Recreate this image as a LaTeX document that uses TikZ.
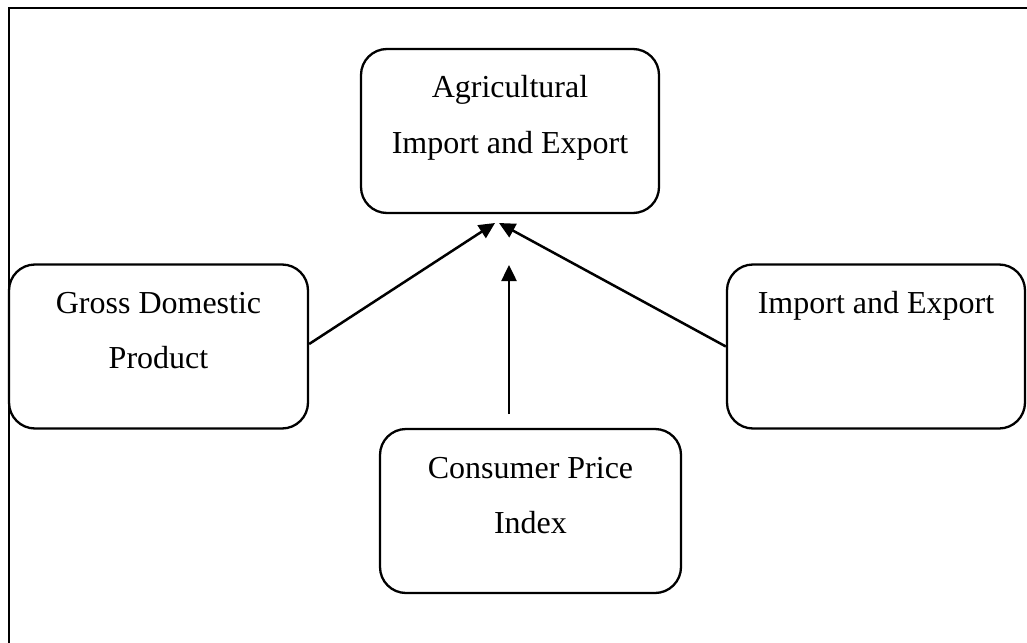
\documentclass[tikz,border=0pt]{standalone}
\usepackage{fontspec}
\setmainfont{Liberation Serif}
\usetikzlibrary{arrows.meta}
\begin{document}
\begin{tikzpicture}[x=1pt,y=-1pt,
  box/.style={draw=black,line width=2.3pt,rounded corners=26pt,minimum width=#1,minimum height=164pt,inner sep=0pt},
  box/.default=298pt,
  lbl/.style={anchor=base,inner sep=0pt,font=\fontsize{32}{38}\selectfont},
  conn/.style={line width=2.5pt,-{Triangle[length=16pt,width=15pt]}}]
\useasboundingbox (0,0) rectangle (1027,642);
\clip (0,0) rectangle (1027,642);
\draw[line width=2pt] (8.5,8) rectangle (1060,700);
% boxes
\node[box] (agri) at (510,131) {};
\node[box=299pt] (gdp) at (158.5,346.5) {};
\node[box] (imp) at (876,346.5) {};
\node[box=301pt] (cpi) at (530.5,511) {};
% texts
\node[lbl] (agriA) at (510,97) {Agricultural};
\node[lbl] (agriB) at (510,153) {Import and Export};
\node[lbl] (gdpA) at (158.5,313) {Gross Domestic};
\node[lbl] (gdpB) at (158.5,368) {Product};
\node[lbl] (impA) at (876,313) {Import and Export};
\node[lbl] (cpiA) at (530.5,478) {Consumer Price};
\node[lbl] (cpiB) at (530.5,533) {Index};
% connector ends
\coordinate (tipL) at (495,223);
\coordinate (tipR) at (499,223);
\coordinate (tipM) at (509,265);
\coordinate (startM) at (509,414);
\draw[conn] (gdp.east |- 0,344) -- (tipL);
\draw[conn] (imp.west) -- (tipR);
\draw[conn] (startM) -- (tipM);
\end{tikzpicture}
\end{document}
